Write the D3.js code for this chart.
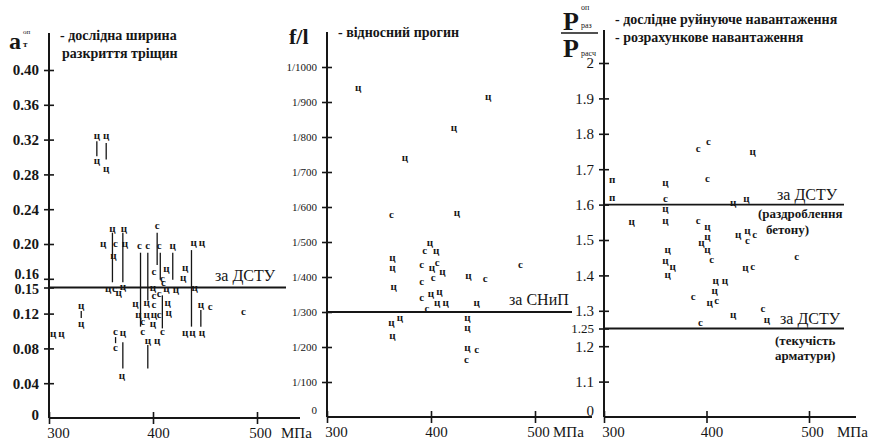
<!DOCTYPE html>
<html>
<head>
<meta charset="utf-8">
<script src="https://cdn.jsdelivr.net/npm/d3@7"></script>
<style>
body { margin: 0; background: #fff; }
svg, svg text { font-family: "Liberation Serif", "Times New Roman", Tinos, "DejaVu Serif", "Noto Serif", Times, serif; }
svg text { fill: #161616; }
</style>
</head>
<body>
<svg id="chart" width="879" height="440" font-family="Liberation Serif, Times New Roman, Tinos, DejaVu Serif, serif"></svg>
<script>
"use strict"

// ---- data ----
const xTicks = [300, 400, 500]

// panel 1: crack width (MPa, a, mark)
const crackTicks = [0, 0.04, 0.08, 0.12, 0.15, 0.16, 0.20, 0.24, 0.28, 0.32, 0.36, 0.40]
const crackLimit = 0.15
const crackPoints = [
	[346,0.324,"ц"],[355,0.324,"ц"],[346,0.295,"ц"],[355,0.286,"ц"],
	[331,0.129,"ц"],[331,0.108,"ц"],[304,0.097,"ц"],[312,0.097,"ц"],
	[361,0.217,"ц"],[372,0.217,"ц"],[352,0.200,"ц"],[364,0.200,"с"],[373,0.200,"ц"],[362,0.186,"ц"],
	[357,0.148,"ц"],[363,0.148,"с"],[371,0.151,"ц"],[367,0.144,"ц"],
	[364,0.099,"с"],[371,0.098,"ц"],[364,0.080,"с"],[370,0.048,"ц"],
	[387,0.198,"с"],[395,0.198,"с"],[406,0.198,"с"],[404,0.221,"с"],[401,0.168,"с"],[409,0.160,"с"],
	[413,0.171,"ц"],[419,0.198,"ц"],[431,0.172,"ц"],[429,0.161,"ц"],[439,0.201,"ц"],[447,0.201,"ц"],
	[383,0.131,"ц"],[394,0.132,"ц"],[401,0.130,"с"],[401,0.140,"с"],[400,0.149,"ц"],[406,0.143,"с"],
	[410,0.155,"с"],[413,0.148,"ц"],[422,0.147,"ц"],[414,0.132,"ц"],[415,0.121,"ц"],
	[386,0.118,"ц"],[394,0.118,"ц"],[401,0.118,"ц"],[406,0.118,"с"],[390,0.110,"с"],[400,0.108,"ц"],
	[390,0.099,"с"],[409,0.099,"с"],[395,0.089,"ц"],[404,0.089,"ц"],
	[440,0.149,"ц"],[446,0.130,"ц"],[455,0.128,"с"],[431,0.098,"ц"],[438,0.098,"ц"],[447,0.098,"ц"],
	[487,0.122,"с"]
]
// vertical spread lines (MPa, from, to)
const crackRanges = [
	[346,0.318,0.301],[355,0.316,0.297],[331,0.123,0.115],
	[361,0.213,0.156],[371,0.213,0.156],[364,0.093,0.086],[371,0.087,0.057],
	[388,0.190,0.105],[395,0.190,0.135],[404,0.213,0.176],[407,0.190,0.159],[419,0.190,0.159],[437,0.193,0.105],
	[395,0.084,0.057],[409,0.141,0.103],[446,0.124,0.105]
]

// panel 2: relative deflection 1/n (MPa, n, mark)
const deflTicks = [0, 100, 200, 300, 400, 500, 600, 700, 800, 900, 1000]
const deflLimit = 300
const deflPoints = [
	[330,940,"ц"],[455,914,"ц"],[422,826,"ц"],[375,740,"ц"],[425,583,"ц"],[362,577,"с"],
	[399,497,"ц"],[394,474,"с"],[405,474,"ц"],[363,454,"ц"],[363,426,"ц"],[391,434,"с"],[401,426,"ц"],
	[406,440,"с"],[411,414,"ц"],[402,397,"с"],[391,386,"с"],[364,371,"ц"],[436,403,"ц"],[452,394,"с"],[486,434,"с"],
	[391,340,"с"],[400,351,"ц"],[408,357,"ц"],[406,326,"ц"],[414,326,"ц"],[396,309,"с"],[444,326,"ц"],
	[362,269,"ц"],[370,283,"ц"],[363,231,"ц"],[435,283,"ц"],[435,254,"ц"],[435,197,"ц"],[444,191,"с"],[434,163,"с"]
]

// panel 3: load ratio (MPa, ratio, mark)
const loadTicks = [1, 1.1, 1.2, 1.25, 1.3, 1.4, 1.5, 1.6, 1.7, 1.8, 1.9, 2]
const loadLimits = [1.6, 1.25]
const loadPoints = [
	[308,1.669,"п"],[308,1.619,"п"],[360,1.661,"ц"],[360,1.616,"с"],[360,1.588,"ц"],[360,1.554,"ц"],[327,1.551,"ц"],
	[401,1.672,"с"],[426,1.605,"ц"],[439,1.616,"ц"],[392,1.554,"с"],[401,1.537,"ц"],[401,1.508,"ц"],[395,1.492,"ц"],
	[401,1.472,"ц"],[405,1.443,"с"],[431,1.514,"ц"],[440,1.525,"ц"],[440,1.497,"с"],[447,1.514,"с"],
	[362,1.472,"ц"],[360,1.441,"ц"],[367,1.424,"ц"],[362,1.401,"ц"],[488,1.452,"с"],[438,1.421,"ц"],[445,1.424,"с"],
	[409,1.384,"ц"],[418,1.384,"ц"],[408,1.356,"ц"],[387,1.339,"с"],[403,1.322,"ц"],[410,1.328,"с"],
	[426,1.288,"ц"],[455,1.305,"с"],[459,1.274,"ц"],[394,1.265,"с"],
	[392,1.757,"с"],[402,1.777,"с"],[445,1.749,"ц"]
]

const ink = "#161616"
const svg = d3.select("#chart")

// ---- shared helpers ----
function drawAxes(p) {
	const g = svg.append("g")

	// y axis line
	g.append("line")
		.attr("x1", p.x(300)).attr("x2", p.x(300))
		.attr("y1", p.axisTop).attr("y2", p.y.range()[0])
		.attr("stroke", ink).attr("stroke-width", 2)

	// x axis line
	g.append("line")
		.attr("x1", p.x(300)).attr("x2", p.axisRight)
		.attr("y1", p.y.range()[0]).attr("y2", p.y.range()[0])
		.attr("stroke", ink).attr("stroke-width", 2)

	const yAxis = d3.axisLeft(p.y).tickValues(p.yTicks).tickFormat(p.yFormat)
		.tickSize(5).tickPadding(5).tickSizeOuter(0)
	const ya = g.append("g")
		.attr("transform", "translate(" + p.x(300) + ",0)")
		.call(yAxis)
	ya.select(".domain").remove()
	ya.attr("font-family", null).attr("font-size", p.yFont).style("color", ink)
	ya.selectAll(".tick line").attr("x1", 5).attr("stroke-width", 1.6)
		.filter(d => d === p.y.domain()[0]).remove()
	ya.selectAll(".tick text")
		.attr("font-weight", p.yBold ? "bold" : null)
		.attr("font-size", d => (p.yFontAt && p.yFontAt[d]) || null)
	if (p.yLabelShift) ya.selectAll(".tick text").attr("dy", d => (p.yLabelShift[d] ?? 0.32) + "em")

	const xAxis = d3.axisBottom(p.x).tickValues(xTicks).tickFormat(d3.format("d"))
		.tickSize(6).tickPadding(3).tickSizeOuter(0)
	const xa = g.append("g")
		.attr("transform", "translate(0," + p.y.range()[0] + ")")
		.call(xAxis)
	xa.select(".domain").remove()
	xa.attr("font-family", null).attr("font-size", 15).style("color", ink)
	xa.selectAll(".tick line").attr("y1", -6).attr("stroke-width", 1.6)
	xa.selectAll(".tick text").attr("dx", d => d === 300 ? 9 : d === 500 ? 3 : 5)

	g.append("text")
		.attr("x", p.x(500) + p.unitDx).attr("y", p.y.range()[0] + 20)
		.attr("font-size", 15)
		.text("МПа")
}

function drawMarks(p, points) {
	svg.append("g").selectAll("text")
		.data(points).enter()
		.append("text")
		.attr("x", d => p.x(d[0]))
		.attr("y", d => p.y(d[1]))
		.attr("dy", "0.28em")
		.attr("text-anchor", "middle")
		.attr("font-size", 11)
		.attr("font-weight", "bold")
		.text(d => d[2])
}

function limitLine(p, v, x2) {
	svg.append("line")
		.attr("x1", p.x(300)).attr("x2", x2)
		.attr("y1", p.y(v)).attr("y2", p.y(v))
		.attr("stroke", ink).attr("stroke-width", 1.8)
}

// ---- panel 1 ----
const p1 = {
	x: d3.scaleLinear().domain([300, 500]).range([49, 257]),
	y: d3.scaleLinear().domain([0, 0.4]).range([418, 70]),
	yTicks: crackTicks,
	yFormat: d => d === 0 ? "0" : d3.format(".2f")(d),
	yFont: 15, yBold: true,
	yFontAt: {0.16: 14, 0.15: 14},
	yLabelShift: {0: 0.1, 0.16: 0.0, 0.15: 0.45},
	axisTop: 33, axisRight: 300, unitDx: 24
}
drawAxes(p1)
limitLine(p1, crackLimit, 286)
svg.append("text").attr("x", 215).attr("y", p1.y(crackLimit) - 7)
	.attr("font-size", 16).text("за ДСТУ")

svg.append("g").selectAll("line")
	.data(crackRanges).enter()
	.append("line")
	.attr("x1", d => p1.x(d[0])).attr("x2", d => p1.x(d[0]))
	.attr("y1", d => p1.y(d[1])).attr("y2", d => p1.y(d[2]))
	.attr("stroke", ink).attr("stroke-width", 1.3)
drawMarks(p1, crackPoints)

svg.append("text").attr("x", 9).attr("y", 49).attr("font-size", 24).attr("font-weight", "bold").text("a")
svg.append("text").attr("x", 23).attr("y", 34).attr("font-size", 7).text("оп")
svg.append("text").attr("x", 23).attr("y", 47).attr("font-size", 9).attr("font-weight", "bold").text("т")
svg.append("text").attr("x", 60).attr("y", 40).attr("font-size", 14).attr("font-weight", "bold")
	.text("- дослідна ширина")
svg.append("text").attr("x", 62).attr("y", 58).attr("font-size", 14).attr("font-weight", "bold")
	.text("разкриття тріщин")

// ---- panel 2 ----
const p2 = {
	x: d3.scaleLinear().domain([300, 500]).range([327, 535]),
	y: d3.scaleLinear().domain([0, 1000]).range([417, 67]),
	yTicks: deflTicks,
	yFormat: d => d === 0 ? "0" : "1/" + d,
	yFont: 11, yBold: false,
	yLabelShift: {0: -0.3},
	axisTop: 32, axisRight: 592, unitDx: 18
}
drawAxes(p2)
limitLine(p2, deflLimit, 572)
svg.append("text").attr("x", 509).attr("y", p2.y(deflLimit) - 7)
	.attr("font-size", 16).text("за СНиП")
drawMarks(p2, deflPoints)

svg.append("text").attr("x", 289).attr("y", 44).attr("font-size", 22).attr("font-weight", "bold").text("f/l")
svg.append("text").attr("x", 338).attr("y", 37).attr("font-size", 14).attr("font-weight", "bold")
	.text("- відносний прогин")

// ---- panel 3 ----
const p3 = {
	x: d3.scaleLinear().domain([300, 500]).range([604, 809]),
	y: d3.scaleLinear().domain([1, 2]).range([417, 63]),
	yTicks: loadTicks,
	yFormat: d => d === 1 ? "0" : d === 2 ? "2" : d === 1.25 ? "1.25" : d3.format(".1f")(d),
	yFont: 15, yBold: false,
	yFontAt: {1.25: 13},
	yLabelShift: {1: -0.1},
	axisTop: 30, axisRight: 856, unitDx: 28
}
drawAxes(p3)
loadLimits.forEach(v => limitLine(p3, v, 844))
drawMarks(p3, loadPoints)

const notes = [
	[777, p3.y(1.6) - 5, 16, "normal", "за ДСТУ"],
	[758, p3.y(1.6) + 13, 13, "bold", "(раздроблення"],
	[766, p3.y(1.6) + 29, 13, "bold", "бетону)"],
	[780, p3.y(1.25) - 5, 16, "normal", "за ДСТУ"],
	[775, p3.y(1.25) + 16, 13, "bold", "(текучість"],
	[775, p3.y(1.25) + 31, 13, "bold", "арматури)"]
]
svg.append("g").selectAll("text").data(notes).enter()
	.append("text")
	.attr("x", d => d[0]).attr("y", d => d[1])
	.attr("font-size", d => d[2]).attr("font-weight", d => d[3])
	.text(d => d[4])

// fraction label P_раз / P_расч
svg.append("text").attr("x", 563).attr("y", 30).attr("font-size", 26).attr("font-weight", "bold").text("P")
svg.append("text").attr("x", 581).attr("y", 10).attr("font-size", 8).text("оп")
svg.append("text").attr("x", 581).attr("y", 28).attr("font-size", 8).text("раз")
svg.append("line").attr("x1", 561).attr("x2", 598).attr("y1", 33).attr("y2", 33)
	.attr("stroke", ink).attr("stroke-width", 1.6)
svg.append("text").attr("x", 563).attr("y", 57).attr("font-size", 26).attr("font-weight", "bold").text("P")
svg.append("text").attr("x", 581).attr("y", 56).attr("font-size", 8).text("расч")

svg.append("text").attr("x", 615).attr("y", 24).attr("font-size", 14).attr("font-weight", "bold")
	.text("- дослідне руйнуюче навантаження")
svg.append("text").attr("x", 615).attr("y", 42).attr("font-size", 14).attr("font-weight", "bold")
	.text("- розрахункове навантаження")
</script>
</body>
</html>
